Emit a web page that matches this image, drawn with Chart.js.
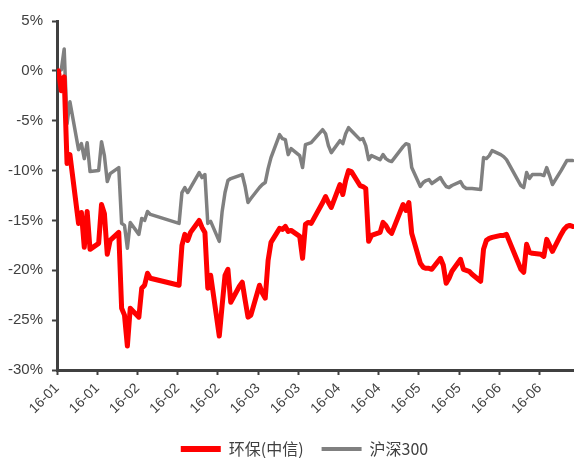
<!DOCTYPE html>
<html>
<head>
<meta charset="utf-8">
<script src="https://cdn.jsdelivr.net/npm/chart.js@4.4.1/dist/chart.umd.min.js"></script>
<style>
  html, body { margin: 0; padding: 0; background: #fff; }
  #wrap { width: 574px; height: 458px; }
</style>
</head>
<body>
<div id="wrap"><canvas id="chart"></canvas></div>
<script>
// trading days, 2016-01-04 .. 2016-07-01
const startDate = Date.UTC(2016, 0, 4);
const dayCount = 180;
const holidays = ['2016-02-08', '2016-02-09', '2016-02-10', '2016-02-11', '2016-02-12',
                  '2016-04-04', '2016-05-02', '2016-06-09', '2016-06-10'];

const tickLabels = ['16-01', '16-01', '16-02', '16-02', '16-02', '16-03', '16-03',
                    '16-04', '16-04', '16-05', '16-05', '16-06', '16-06'];

// 环保(中信), cumulative %, one value per trading day
const envReturns = [
    // Jan
    0.0, -2.0, -0.6, -9.3, -8.4, -15.3, -14.2, -17.7, -14.1, -17.9,
    -17.3, -13.4, -14.3, -18.4, -17.0, -16.2, -23.8, -24.5, -27.6, -23.8,
    // Feb
    -24.7, -21.8, -21.5, -20.3, -20.8, -21.5, -17.5, -16.4, -17.0, -16.2,
    -15.0, -15.7, -16.2, -21.8, -20.5, -26.6,
    // Mar
    -23.5, -20.5, -19.9, -23.2, -21.6, -21.2, -23.0, -24.7, -24.5, -21.5,
    -22.3, -22.8, -19.0, -17.2, -15.8, -15.9, -15.6, -16.1, -16.0, -16.6,
    -18.8, -15.4, -15.2,
    // Apr
    -15.3, -13.2, -12.6, -13.2, -13.7, -11.4, -12.4, -11.0, -10.0, -10.1,
    -11.5, -11.6, -11.8, -17.1, -16.5, -16.2, -15.2, -15.5, -16.0, -16.3,
    // May
    -13.4, -14.0, -13.2, -16.3, -19.3, -19.7, -19.8, -19.8, -19.9, -18.8,
    -19.5, -21.3, -20.8, -20.1, -18.9, -19.9, -20.0, -20.1, -20.4, -21.1,
    -17.9,
    // Jun
    -17.0, -16.8, -16.7, -16.5, -16.5, -16.4, -19.9, -20.2, -17.4, -18.2,
    -18.3, -18.4, -18.6, -16.9, -17.5, -18.1, -16.4, -15.9, -15.6, -15.5,
    // Jul
    -15.6
];

// 沪深300
const hs300Returns = [
    // Jan
    0.0, 0.1, 2.2, -5.3, -3.1, -7.9, -7.3, -8.8, -7.2, -10.1,
    -10.0, -7.1, -8.5, -11.1, -10.3, -9.7, -15.3, -15.5, -17.8, -15.2,
    // Feb
    -16.4, -14.8, -15.0, -14.1, -14.4, -15.3, -12.2, -11.7, -12.2, -11.7,
    -10.2, -10.7, -10.4, -15.3, -15.1, -17.1,
    // Mar
    -14.1, -12.2, -11.0, -10.8, -10.5, -10.4, -11.6, -13.2, -12.8, -11.7,
    -11.4, -11.2, -9.8, -8.7, -6.4, -6.8, -6.9, -8.4, -7.8, -8.5,
    -9.7, -7.4, -7.3,
    // Apr
    -7.2, -5.9, -6.3, -7.5, -8.2, -7.0, -7.3, -6.3, -5.7, -6.0,
    -6.9, -6.8, -7.5, -8.9, -8.5, -8.9, -8.4, -8.8, -9.0, -9.1,
    // May
    -7.6, -7.3, -7.4, -9.7, -11.6, -11.2, -11.0, -10.9, -11.3, -10.7,
    -11.2, -11.6, -11.7, -11.5, -11.1, -11.6, -11.8, -11.8, -11.8, -11.9,
    -8.7,
    // Jun
    -8.8, -8.5, -8.0, -8.4, -8.6, -8.9, -11.5, -11.7, -10.2, -10.8,
    -10.4, -10.4, -10.5, -9.7, -10.5, -11.4, -10.0, -9.5, -9.0, -9.0,
    // Jul
    -9.0
];

// build the list of trading days (offset in days from startDate)
const tradeDays = [];
for (let d = 0; d < dayCount; d++) {
    const dt = new Date(startDate + d * 86400000);
    const wd = dt.getUTCDay();
    const iso = dt.toISOString().slice(0, 10);
    if (wd !== 0 && wd !== 6 && !holidays.includes(iso)) tradeDays.push(d);
}

// points sit in the middle of their day slot
const toPoints = vals => vals.map((v, i) => ({ x: tradeDays[i] + 0.5, y: v }));

const axisColor = '#404040';
const textColor = '#404040';

// legend in the reference is centred a bit right of the canvas middle
const legendShift = {
    id: 'legendShift',
    afterLayout(chart) {
        chart.legend.left += 35;
    }
};

new Chart(document.getElementById('chart').getContext('2d'), {
    type: 'line',
    data: {
        datasets: [{
            label: '环保(中信)',
            data: toPoints(envReturns),
            borderColor: '#FF0000',
            backgroundColor: '#FF0000',
            borderWidth: 5,
            pointRadius: 0,
            pointBorderWidth: 6,
            pointStyle: 'line',
            borderCapStyle: 'round',
            borderJoinStyle: 'round',
            tension: 0
        }, {
            label: '沪深300',
            data: toPoints(hs300Returns),
            borderColor: '#808080',
            backgroundColor: '#808080',
            borderWidth: 3.5,
            pointRadius: 0,
            pointBorderWidth: 4,
            pointStyle: 'line',
            borderCapStyle: 'round',
            borderJoinStyle: 'round',
            tension: 0
        }]
    },
    plugins: [legendShift],
    options: {
        responsive: true,
        maintainAspectRatio: false,
        animation: false,
        events: [],
        layout: {
            padding: { left: 0, right: 0, top: 21, bottom: -9 }
        },
        plugins: {
            tooltip: { enabled: false },
            legend: {
                position: 'bottom',
                labels: {
                    usePointStyle: true,
                    pointStyleWidth: 40,
                    padding: 18,
                    color: textColor,
                    font: { family: "'Noto Sans CJK SC', sans-serif", size: 16 }
                }
            }
        },
        scales: {
            x: {
                type: 'linear',
                min: 0,
                max: dayCount,
                afterFit: s => { s.height = 53; },
                border: { display: true, color: axisColor, width: 3 },
                grid: {
                    drawOnChartArea: false,
                    tickLength: 5,
                    tickColor: axisColor,
                    tickWidth: 2
                },
                ticks: {
                    stepSize: 14,
                    includeBounds: false,
                    autoSkip: false,
                    minRotation: 45,
                    maxRotation: 45,
                    padding: 5,
                    color: textColor,
                    font: { family: "'Liberation Sans', Arial, sans-serif", size: 14 },
                    callback: (v, i) => tickLabels[i]
                }
            },
            y: {
                min: -30,
                max: 5,
                afterFit: s => { s.width = 57; },
                border: { display: true, color: axisColor, width: 3 },
                grid: {
                    drawOnChartArea: false,
                    tickLength: 5,
                    tickColor: axisColor,
                    tickWidth: 2
                },
                ticks: {
                    stepSize: 5,
                    padding: 9,
                    color: textColor,
                    font: { family: "'Liberation Sans', Arial, sans-serif", size: 15 },
                    callback: v => v + '%'
                }
            }
        }
    }
});
</script>
</body>
</html>
